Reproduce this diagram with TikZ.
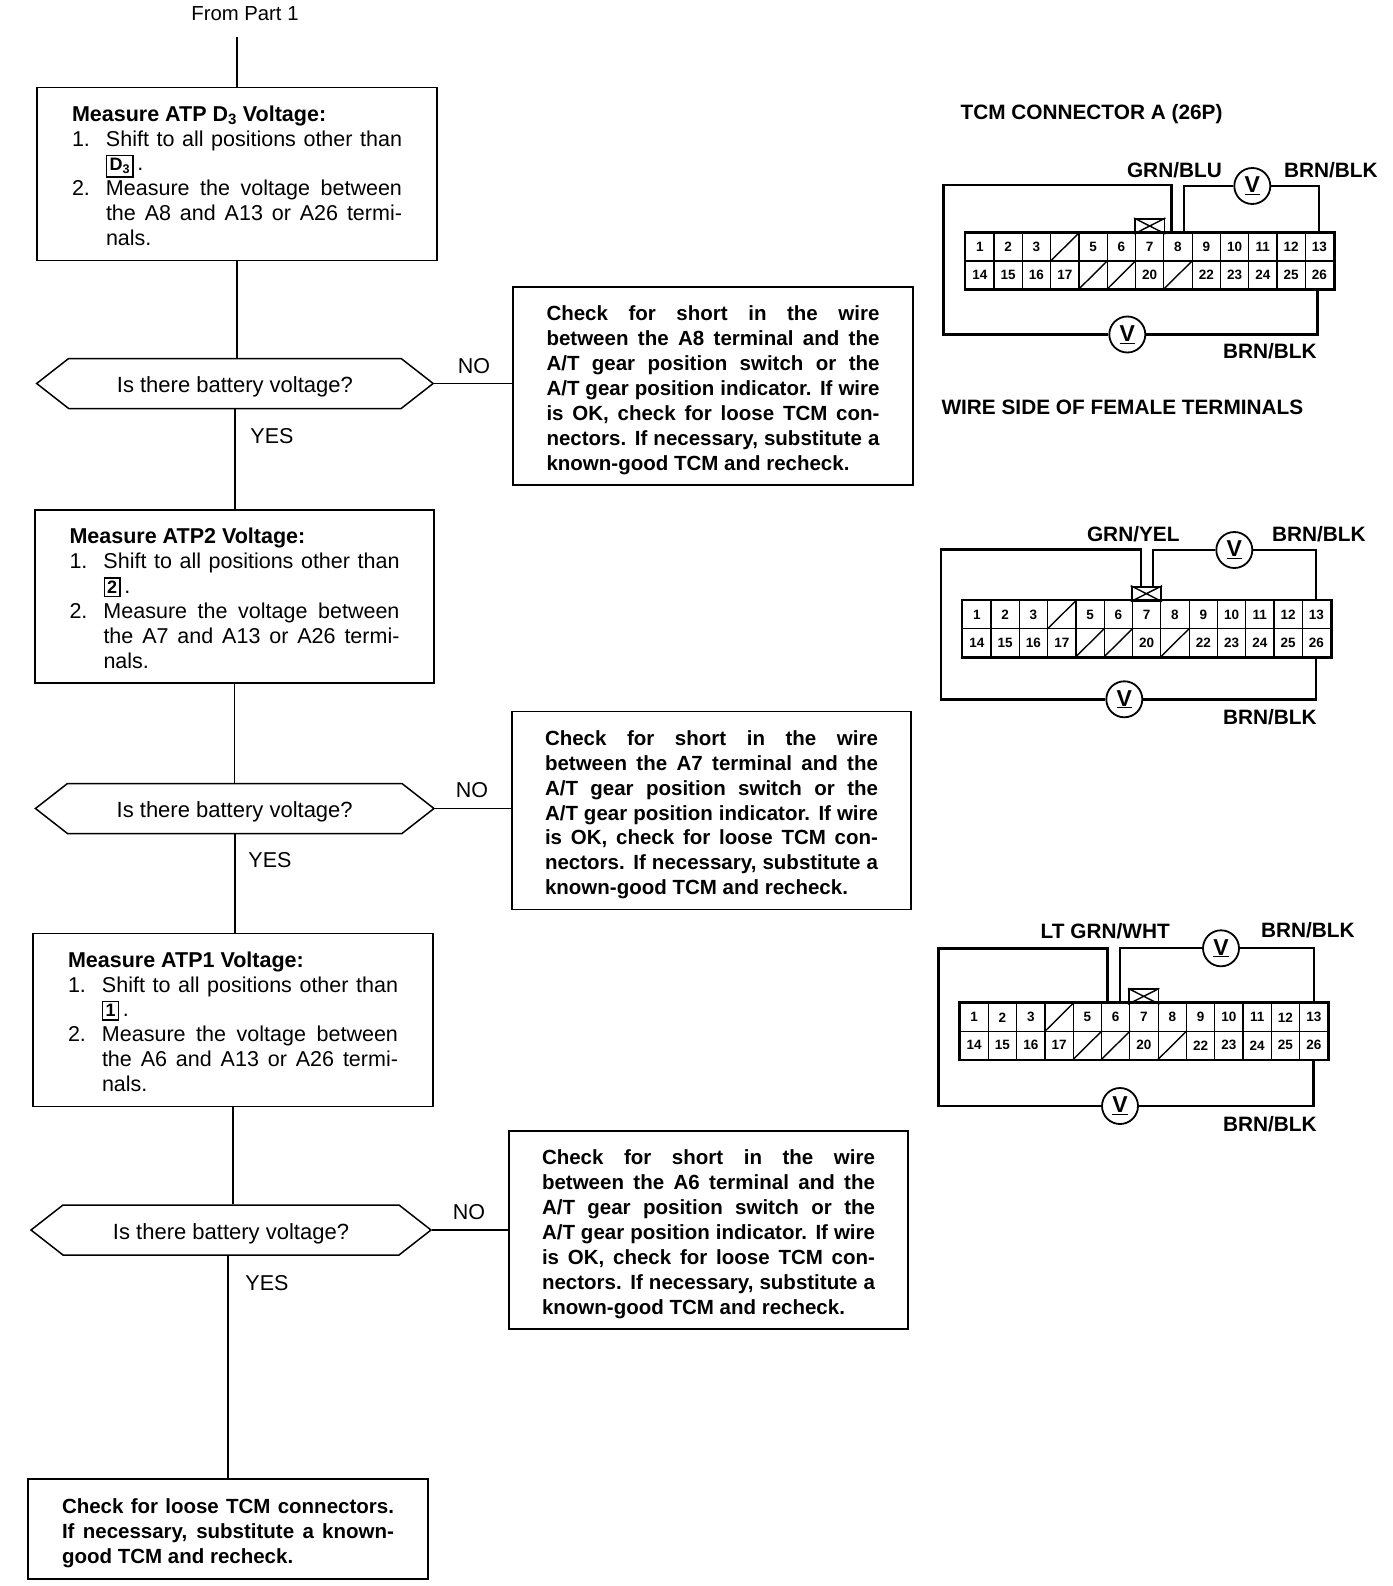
\documentclass[tikz,border=0pt]{standalone}
\usepackage{fontspec}
\setmainfont{Liberation Sans}
\usetikzlibrary{shapes,shapes.symbols,calc,positioning}

\newcommand{\sline}[2]{{\spaceskip=0pt\xspaceskip=0pt\makebox[#1pt][s]{#2}}}
\newcommand{\tcmkey}[1]{\smash{\setlength{\fboxsep}{2.2pt}\setlength{\fboxrule}{1.4pt}\fbox{\fontsize{18}{18}\selectfont\textbf{#1}}}}
\newcommand{\measuretext}[3]{\rule{0pt}{19pt}{\spaceskip=0pt\xspaceskip=0pt\textbf{Measure #1 Voltage:}}\\
  \makebox[34pt][l]{1.}\sline{296}{Shift to all positions other than}\\
  \makebox[34pt][l]{}\tcmkey{#2}\,.\\
  \makebox[34pt][l]{2.}\sline{296}{Measure the voltage between}\\
  \makebox[34pt][l]{}\sline{296}{the #3 and A13 or A26 termi-}\\
  \makebox[34pt][l]{}nals.}
\newcommand{\checktext}[1]{\rule{0pt}{23.5pt}\sline{333}{Check for short in the wire}\\
  \sline{333}{between the #1 terminal and the}\\
  \sline{333}{A/T gear position switch or the}\\
  \sline{333}{A/T gear position indicator. If wire}\\
  \sline{333}{is OK, check for loose TCM con-}\\
  \sline{333}{nectors. If necessary, substitute a}\\
  {\spaceskip=0pt\xspaceskip=0pt known-good TCM and recheck.}}

\begin{document}
\begin{tikzpicture}[x=1pt,y=-1pt]
  \tikzset{
    body font/.style={font=\fontsize{21.5}{24.9}\selectfont},
    bold font/.style={font=\fontsize{20.5}{24.9}\selectfont\bfseries},
    label font/.style={font=\fontsize{20.8}{24}\selectfont\bfseries},
    measure box/.style={draw,line width=1.8pt,body font,align=left,inner sep=0pt,minimum width=#1,minimum height=173pt,text width=330pt},
    check box/.style={draw,line width=1.8pt,bold font,align=left,inner sep=0pt,minimum width=#1,minimum height=198pt,text width=333pt},
    ask box/.style={draw,line width=1.5pt,shape=signal,signal to=west and east,signal pointer angle=76,font=\fontsize{22}{24}\selectfont,text height=18.5pt,text depth=0pt,inner sep=0pt,minimum width=#1,minimum height=50pt},
    link/.style={line width=1.8pt},
    wire/.style={line width=2.6pt},
    thin wire/.style={line width=1.7pt},
    meter/.style={draw,circle,line width=1.8pt,fill=white,inner sep=0pt,minimum size=36pt,font=\fontsize{23}{23}\selectfont\bfseries},
    cell/.style={draw,line width=1.2pt,inner sep=0pt,minimum width=28.3pt,minimum height=28pt,font=\fontsize{13.5}{14}\selectfont\bfseries},
    key slot/.style={draw,line width=1.9pt,inner sep=0pt,minimum width=29.5pt,minimum height=14pt}
  }
  \useasboundingbox (0,0) rectangle (1392,1586);

  % flow chart
  \node [font=\fontsize{20.3}{24}\selectfont] (from) at (245,14) {From Part 1};
  \coordinate (fromend) at (237,37);
  \node [measure box=400pt] (m1) at (237,174) {\measuretext{ATP D\textsubscript{3}}{D\textsubscript{3}}{A8}};
  \node [ask box=396.5pt] (a1) at (234.9,383.5) {Is there battery voltage?};
  \node [check box=400pt] (c1) at (713,386) {\checktext{A8}};
  \node [measure box=399pt] (m2) at (234.5,596.5) {\measuretext{ATP2}{2}{A7}};
  \node [ask box=398.5pt] (a2) at (234.7,808.5) {Is there battery voltage?};
  \node [check box=399pt] (c2) at (711.5,810.5) {\checktext{A7}};
  \node [measure box=400pt] (m3) at (233,1020) {\measuretext{ATP1}{1}{A6}};
  \node [ask box=400pt] (a3) at (231,1230) {Is there battery voltage?};
  \node [check box=399pt] (c3) at (708.5,1230) {\checktext{A6}};
  \node [draw,line width=1.8pt,bold font,align=left,inner sep=0pt,minimum width=400pt,minimum height=100pt,text width=332pt] (last) at (228,1529)
    {\rule{0pt}{23.5pt}\sline{332}{Check for loose TCM connectors.}\\ \sline{332}{If necessary, substitute a known-}\\ {\spaceskip=0pt\xspaceskip=0pt good TCM and recheck.}};

  \node [body font] (no1) at (474,366) {NO};
  \node [body font] (no2) at (472,790) {NO};
  \node [body font] (no3) at (469,1212) {NO};
  \node [body font] (yes1) at (272,436) {YES};
  \node [body font] (yes2) at (270,860) {YES};
  \node [body font] (yes3) at (267,1283) {YES};

  \draw [link] (fromend) -- (fromend |- m1.north);
  \foreach \i in {1,2,3}{
    \draw [link] (m\i.south) -- (m\i.south |- a\i.north);
    \draw [link] (a\i.east) -- (a\i.east -| c\i.west);
  }
  \draw [link] (a1.south) -- (a1.south |- m2.north);
  \draw [link] (a2.south) -- (a2.south |- m3.north);
  \draw [link] (last.north |- a3.south) -- (last.north);

  % connector headings
  \node [label font,anchor=west] (tcmhead) at (957,114) {TCM CONNECTOR A (26P)};
  \node [label font,anchor=west] (wirehead) at (938,407) {WIRE SIDE OF FEMALE TERMINALS};

  % connector diagrams: number / grid left / top / key left / wire x positions / meters / corners
  \foreach \d/\gx/\gy/\kx/\ax/\bx/\cx/\ex/\lx/\ty/\by/\ux/\uy/\dx/\dy/\uw in {
      1/965.7/233/1149.7/1171.7/1184.3/1319/1317.7/943.3/185/334/1252.3/186/1127.3/334.5/2.6,
      2/962.7/600.7/1146.4/1141/1152.7/1316/1316/941/549.3/698.3/1234.3/550/1124.3/699.3/2.6,
      3/960/1003.3/1143.7/1107.7/1120/1314.3/1313.3/938.3/948.3/1105.7/1221/948.3/1120/1106/1.7}{
    \foreach \c/\t in {1/1,2/2,3/3,4/{},5/5,6/6,7/7,8/8,9/9,10/10,11/11,12/12,13/13}
      \node [cell] (g\d-t\c) at (\gx+28.3*\c-14.15,\gy+14) {\t};
    \foreach \c/\t in {1/14,2/15,3/16,4/17,5/{},6/{},7/20,8/{},9/22,10/23,11/24,12/25,13/26}
      \node [cell] (g\d-b\c) at (\gx+28.3*\c-14.15,\gy+42) {\t};
    \foreach \s in {t4,b5,b6,b8}
      \draw [line width=1.4pt] (g\d-\s.south west) -- (g\d-\s.north east);
    \draw [line width=2.6pt] (g\d-t1.north west) rectangle (g\d-b13.south east);
    \node [key slot] (k\d) at (\kx,\gy-7) {};
    \draw [line width=1.4pt] (k\d.north west) -- (k\d.south east) (k\d.south west) -- (k\d.north east);

    \node [meter] (vu\d) at (\ux,\uy) {\underline{V}};
    \node [meter] (vd\d) at (\dx,\dy) {\underline{V}};
    \coordinate (cl\d) at (\lx,\ty);
    \coordinate (pa\d) at (\ax,\gy-\ifnum\d=2 14\else 0\fi);
    \coordinate (pb\d) at (\bx,\gy-\ifnum\d=2 14\else 0\fi);
    \coordinate (pc\d) at (\cx,\gy);
    \coordinate (pe\d) at (\ex,\gy+56);
    \draw [wire] (vd\d.west) -| (cl\d) -| (pa\d);
    \draw [thin wire] (vu\d.west) -| (pb\d);
    \draw [line width=\uw pt] (vu\d.east) -| (pc\d);
    \draw [wire] (vd\d.east) -| (pe\d);
  }

  \node [label font,anchor=west] (gb1) at (1123.5,170) {GRN/BLU};
  \node [label font,anchor=west] (bu1) at (1280.5,170) {BRN/BLK};
  \node [label font,anchor=west] (bd1) at (1219.5,350.7) {BRN/BLK};
  \node [label font,anchor=west] (gy2) at (1083.5,534) {GRN/YEL};
  \node [label font,anchor=west] (bu2) at (1268.5,534) {BRN/BLK};
  \node [label font,anchor=west] (bd2) at (1219.5,716.7) {BRN/BLK};
  \node [label font,anchor=west] (gw3) at (1037.2,930.7) {LT GRN/WHT};
  \node [label font,anchor=west] (bu3) at (1257.5,930) {BRN/BLK};
  \node [label font,anchor=west] (bd3) at (1219.5,1124) {BRN/BLK};
\end{tikzpicture}
\end{document}
